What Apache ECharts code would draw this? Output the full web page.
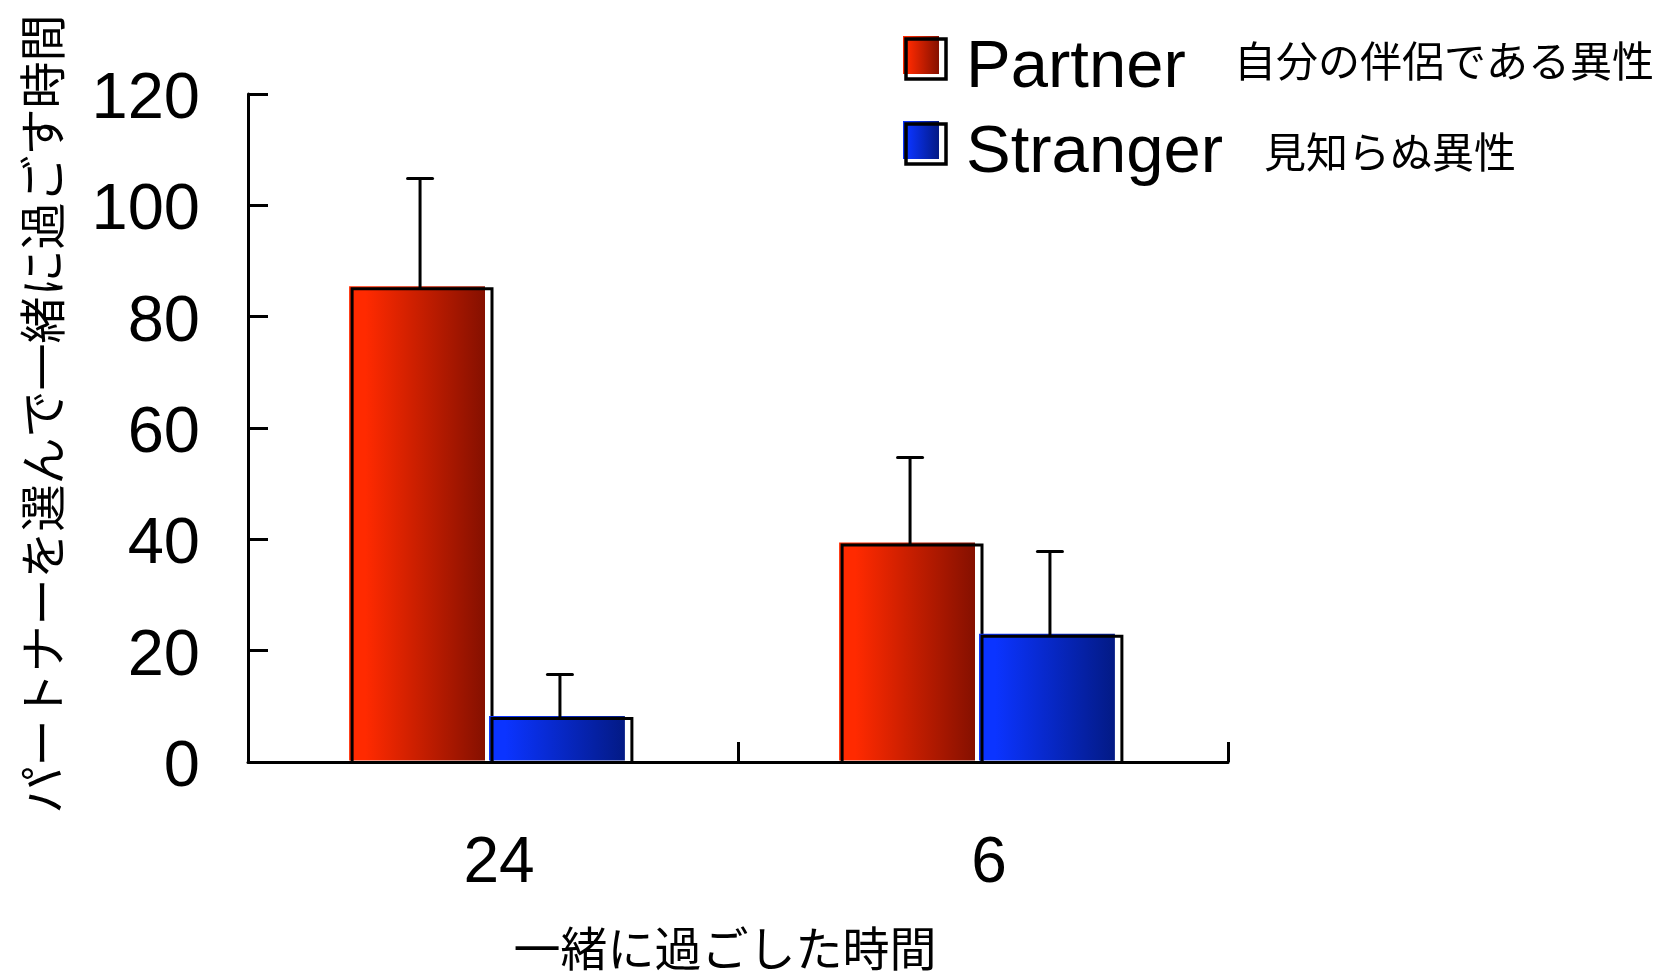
<!DOCTYPE html>
<html>
<head>
<meta charset="utf-8">
<script src="https://cdn.jsdelivr.net/npm/echarts@6/dist/echarts.min.js"></script>
<style>
  html, body { margin: 0; padding: 0; background: #ffffff; }
  #chart { width: 1664px; height: 971px; }
</style>
</head>
<body>
<div id="chart"></div>
<script>
// Hours spent together (category axis)
const categories = ['24', '6'];
// Time spent with the chosen partner, mean and upper error
const partnerValues = [85, 39];
const partnerErrors = [19.8, 15.7];
// Time spent with a stranger, mean and upper error
const strangerValues = [7.8, 22.6];
const strangerErrors = [7.9, 15.2];
// Value axis range
const yMin = 0;
const yMax = 120;
const yStep = 20;

const seriesNames = ['Partner', 'Stranger'];
const seriesNotes = ['自分の伴侶である異性', '見知らぬ異性'];
const xTitle = '一緒に過ごした時間';
const yTitle = 'パートナーを選んで一緒に過ごす時間';

const JP = '"Noto Sans CJK JP", "Noto Sans", sans-serif';
const NUM = '"Liberation Sans", Arial, sans-serif';

const redGrad = () => new echarts.graphic.LinearGradient(0, 0, 1, 0, [
  { offset: 0, color: '#ff2a00' },
  { offset: 0.12, color: '#ff2a00' },
  { offset: 1, color: '#851000' }
]);
const blueGrad = () => new echarts.graphic.LinearGradient(0, 0, 1, 0, [
  { offset: 0, color: '#0b34ff' },
  { offset: 0.12, color: '#0b34ff' },
  { offset: 1, color: '#031a85' }
]);

// Bar drawn as a gradient block with an offset black outline and an upper error bar
function barRenderer(side, gradFn) {
  return function (params, api) {
    const idx = api.value(0);
    const val = api.value(1);
    const err = api.value(2);
    const topPt = api.coord([idx, val]);
    const basePt = api.coord([idx, 0]);
    const errPt = api.coord([idx, val + err]);
    const catW = api.size([1, 0])[0];
    const bw = catW * 0.2855;
    const cx = topPt[0] - 1;
    const ox = side < 0 ? cx - bw : cx;
    const oyTop = topPt[1];
    const base = basePt[1];
    const fx = ox - 3;
    const fTop = oyTop - 2.5;
    const ex = ox + bw / 2 - 2;
    return {
      type: 'group',
      children: [
        {
          type: 'rect',
          shape: { x: fx, y: fTop, width: bw - 4, height: base - 1.5 - fTop },
          style: { fill: gradFn() }
        },
        {
          type: 'polyline',
          shape: { points: [[ox, base], [ox, oyTop], [ox + bw, oyTop], [ox + bw, base]] },
          style: { stroke: '#000', lineWidth: 3, fill: null }
        },
        {
          type: 'line',
          shape: { x1: ex, y1: oyTop, x2: ex, y2: errPt[1] },
          style: { stroke: '#000', lineWidth: 3 }
        },
        {
          type: 'line',
          shape: { x1: ex - 12.5, y1: errPt[1], x2: ex + 12.5, y2: errPt[1] },
          style: { stroke: '#000', lineWidth: 3, lineCap: 'round' }
        }
      ]
    };
  };
}

function legendItem(y, gradFn, name, note, nameX, noteX, noteDy) {
  return [
    { type: 'rect', shape: { x: 903, y: y - 3, width: 36, height: 38 }, style: { fill: gradFn() }, z: 10 },
    { type: 'rect', shape: { x: 906, y: y, width: 40, height: 40 }, style: { fill: null, stroke: '#000', lineWidth: 3.5 }, z: 11 },
    { type: 'text', x: nameX, y: y + 30, style: { text: name, font: '67px ' + NUM, fill: '#000', textAlign: 'left', textVerticalAlign: 'middle' }, z: 11 },
    { type: 'text', x: noteX, y: y + noteDy, style: { text: note, font: '42px ' + JP, fill: '#000', textAlign: 'left', textVerticalAlign: 'middle' }, z: 11 }
  ];
}

const chart = echarts.init(document.getElementById('chart'), null, { renderer: 'canvas' });

chart.setOption({
  backgroundColor: '#ffffff',
  animation: false,
  grid: { left: 248, top: 94, width: 980, height: 668 },
  xAxis: {
    type: 'category',
    data: categories,
    boundaryGap: true,
    axisLine: { show: true, lineStyle: { color: '#000', width: 3 } },
    axisTick: { show: true, inside: true, length: 20, alignWithLabel: false, lineStyle: { color: '#000', width: 3 } },
    axisLabel: { color: '#000', fontSize: 64, fontFamily: NUM, margin: 70, padding: [0, 0, 0, 12] },
    splitLine: { show: false }
  },
  yAxis: {
    type: 'value',
    min: yMin,
    max: yMax,
    interval: yStep,
    axisLine: { show: true, lineStyle: { color: '#000', width: 3 } },
    axisTick: { show: true, inside: true, length: 20, lineStyle: { color: '#000', width: 3 } },
    axisLabel: { color: '#000', fontSize: 65, fontFamily: NUM, margin: 48, verticalAlign: 'top', lineHeight: 12 },
    splitLine: { show: false }
  },
  series: [
    {
      name: seriesNames[0],
      type: 'custom',
      renderItem: barRenderer(-1, redGrad),
      encode: { x: 0, y: 1 },
      data: categories.map((c, i) => [i, partnerValues[i], partnerErrors[i]]),
      clip: false,
      z: 3
    },
    {
      name: seriesNames[1],
      type: 'custom',
      renderItem: barRenderer(1, blueGrad),
      encode: { x: 0, y: 1 },
      data: categories.map((c, i) => [i, strangerValues[i], strangerErrors[i]]),
      clip: false,
      z: 4
    }
  ],
  graphic: [
    ...legendItem(39, redGrad, seriesNames[0], seriesNotes[0], 966, 1234, 22),
    ...legendItem(124, blueGrad, seriesNames[1], seriesNotes[1], 966, 1264, 28),
    {
      type: 'text',
      x: 725, y: 948,
      style: { text: xTitle, font: '47px ' + JP, fill: '#000', textAlign: 'center', textVerticalAlign: 'middle' }
    },
    {
      type: 'text',
      x: 42, y: 414,
      rotation: Math.PI / 2,
      style: { text: yTitle, font: '47px ' + JP, fill: '#000', textAlign: 'center', textVerticalAlign: 'middle' }
    }
  ]
});
</script>
</body>
</html>
